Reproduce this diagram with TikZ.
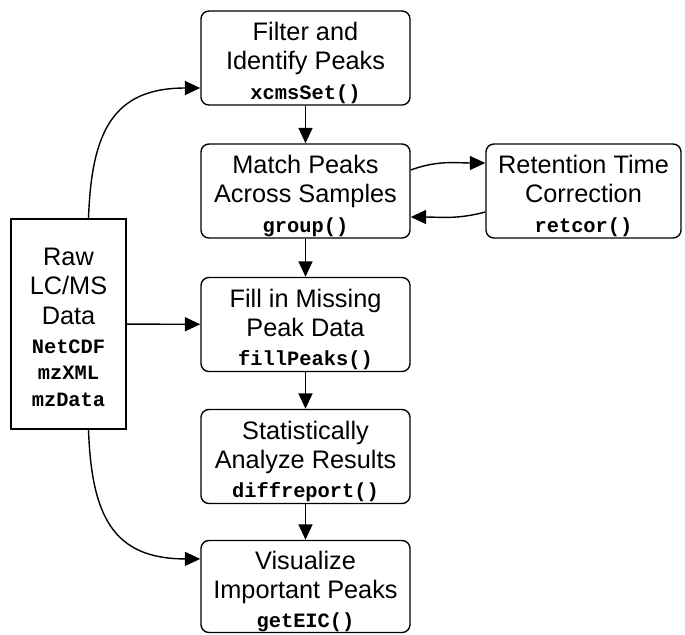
\documentclass[tikz,border=0pt]{standalone}
\usepackage{fontspec}
\setmainfont{Liberation Sans}
\setmonofont{Liberation Mono}
\usepackage{tikz}
\usetikzlibrary{arrows.meta}
\newcommand{\fncall}[1]{{\fontsize{14.5}{18}\selectfont\ttfamily\bfseries #1}}
\newcommand{\lift}{\rule{0pt}{20pt}}

\begin{document}
\begin{tikzpicture}[x=0.025cm,y=0.025cm,
  stepbox/.style={draw,line width=1pt,rounded corners=0.2cm,minimum width=5.225cm,minimum height=2.35cm,
    align=center,inner sep=0pt,font=\fontsize{18}{20.8}\selectfont},
  flow/.style={line width=1pt,-{Triangle[length=11pt,width=10pt]}}]

\useasboundingbox (0,0) rectangle (685,-634);

\node[stepbox] (filter) at (305.5,-58) {\lift Filter and\\Identify Peaks\\\fncall{xcmsSet()}};
\node[stepbox] (match) at (305.5,-191) {\lift Match Peaks\\Across Samples\\\fncall{group()}};
\node[stepbox,minimum width=4.875cm] (retcor) at (583.5,-191) {\lift Retention Time\\Correction\\\fncall{retcor()}};
\node[stepbox] (fill) at (305.5,-324.5) {\lift Fill in Missing\\Peak Data\\\fncall{fillPeaks()}};
\node[stepbox] (stats) at (305.5,-456.5) {\lift Statistically\\Analyze Results\\\fncall{diffreport()}};
\node[stepbox,minimum height=2.3cm] (visual) at (305.5,-586.5) {\lift Visualize\\Important Peaks\\\fncall{getEIC()}};
\node[stepbox,rounded corners=0pt,minimum width=2.875cm,minimum height=5.25cm] (raw) at (68.5,-324)
  {\rule{0pt}{17pt}Raw\\LC/MS\\Data\\\fncall{NetCDF}\\[-2pt]\fncall{mzXML}\\[-2pt]\fncall{mzData}};

\draw[flow] (filter) -- (match);
\draw[flow] (match) -- (fill);
\draw[flow] (fill) -- (stats);
\draw[flow] (stats) -- (visual);
\draw[flow] (raw) -- (fill);
\draw[flow] ([xshift=0.5cm]raw.north) to[out=88,in=180,looseness=1.3] ([yshift=-0.75cm]filter.west);
\draw[flow] ([xshift=0.5cm]raw.south) to[out=-88,in=180,looseness=1.3] ([yshift=0.69cm]visual.west);
\draw[flow] ([yshift=0.525cm]match.east) to[out=20,in=180] ([yshift=0.7cm]retcor.west);
\draw[flow] ([yshift=-0.525cm]retcor.west) to[out=195,in=0] ([yshift=-0.65cm]match.east);

\end{tikzpicture}
\end{document}
